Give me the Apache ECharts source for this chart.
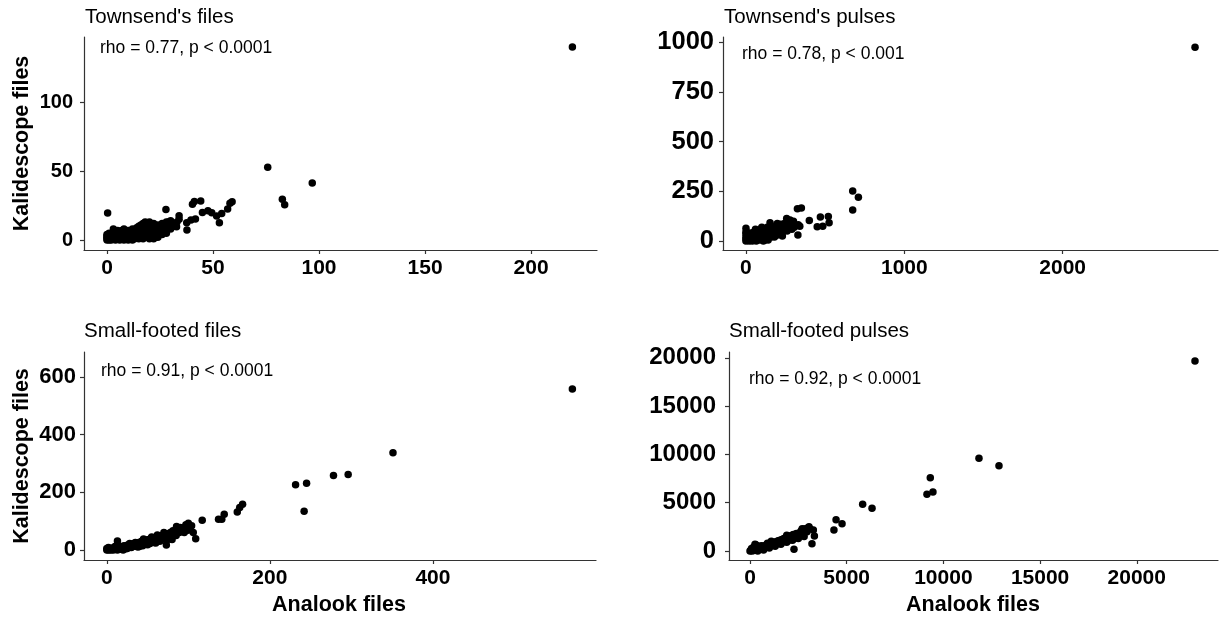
<!DOCTYPE html>
<html>
<head>
<meta charset="utf-8">
<script src="https://cdn.jsdelivr.net/npm/echarts@6/dist/echarts.min.js"></script>
<style>
html,body{margin:0;padding:0;background:#fff;}
#chart{width:1228px;height:619px;}
</style>
</head>
<body>
<div id="chart"></div>
<script>
// ---- Data ----
const panelTitles = ["Townsend's files", "Townsend's pulses", "Small-footed files", "Small-footed pulses"];
const corrLabels = ["rho = 0.77, p < 0.0001", "rho = 0.78, p < 0.001", "rho = 0.91, p < 0.0001", "rho = 0.92, p < 0.0001"];
const xAxisTitle = "Analook files";
const yAxisTitle = "Kalidescope files";

const townsendFiles = [
  [219.5,139.9],[75.8,52.7],[96.8,41.3],[82.7,29.5],[83.8,25.6],[0.3,19.6],[27.8,22.2],[34,17.6],
  [40.3,26],[41.2,28],[44.2,28.3],[37.7,7.2],[37.6,12.5],[39.6,14.5],[41.7,15.3],[45,20],[47.6,21.2],
  [49.4,19.8],[51.7,17.4],[53,12.5],[54.1,19.3],[56.9,22.5],[58,26.6],[59,27.8],[32.8,9.7],[31.5,11.6],
  [0,0],[0,1],[0,2],[1,0],[1,1],[1,3],[2,0],[2,2],[2,4],[3,1],[3,5],[3,8],[4,0],[4,2],[4,6],[5,1],[5,3],
  [5,7],[6,0],[6,2],[6,4],[7,1],[7,3],[7,7],[8,0],[8,2],[8,5],[8,8],[9,1],[9,3],[9,6],[10,0],[10,2],
  [10,4],[10,7],[11,1],[11,3],[11,5],[12,0],[12,2],[12,6],[12,8],[13,1],[13,4],[13,7],[14,2],[14,5],
  [14,9],[15,1],[15,3],[15,6],[15,10],[16,2],[16,4],[16,8],[16,11],[17,1],[17,5],[17,9],[17,12],[18,3],
  [18,6],[18,10],[19,2],[19,5],[19,8],[19,12],[20,1],[20,4],[20,7],[20,11],[21,3],[21,6],[21,9],[22,1],
  [22,5],[22,8],[22,12],[23,2],[23,6],[23,10],[24,4],[24,8],[24,11],[25,5],[25,9],[26,7],[26,12],[27,6],
  [27,10],[28,8],[28,13],[29,9],[30,11],[30,14],[31,12],[32,10],[33,13],[34,15],[0,4],[1,5],[2,1],[0,3],
  [18,13],[20,13],[22,3],[24,2],[26,4],[28,5],[29,13],[30,8]
];
const townsendPulses = [
  [2836,976],[674,252],[710,221],[674,156],[325,163],[350,166],[400,103],[470,121],[520,124],[450,72],
  [485,75],[525,92],[328,30],[257,114],[278,106],[330,82],[340,75],[152,92],[198,89],[0,65],
  [0,0],[0,10],[0,20],[0,35],[0,45],[10,5],[15,25],[20,0],[20,15],[25,40],[30,5],[35,20],[40,0],[40,30],
  [45,10],[50,25],[50,45],[55,5],[60,15],[60,35],[65,0],[70,20],[70,50],[75,10],[80,30],[80,55],[85,5],
  [90,20],[90,40],[95,60],[100,10],[100,30],[105,50],[110,0],[110,20],[115,40],[120,60],[125,15],[130,30],
  [130,50],[135,70],[140,5],[140,25],[145,45],[150,35],[150,60],[155,80],[160,20],[165,45],[170,30],
  [175,65],[180,40],[185,55],[190,75],[195,35],[200,50],[205,70],[210,40],[215,60],[220,85],[225,55],
  [230,45],[240,70],[245,90],[250,60],[255,80],[260,50],[270,95],[275,65],[280,75],[290,60],[295,85],
  [300,100],[305,70],[310,80],[120,5],[180,20],[200,30],[230,25],[60,60],[100,70]
];
const smallFiles = [
  [571,558],[351,337],[296,261],[278,258],[245,231],[231.5,226],[242,134],[166.5,158],[163,147],[160,131],
  [144,124],[141,106],[137,106],[117,103],[109,39],[106,60],[100,92.5],[97,87],[85.5,81],[73,17],[76,37],[13,31],
  [0,0],[1,2],[2,0],[3,4],[4,1],[5,3],[6,6],[7,2],[8,5],[9,8],[10,4],[11,7],[12,3],[13,10],[14,6],[15,9],
  [16,5],[17,12],[18,8],[19,11],[20,7],[21,14],[22,10],[23,13],[24,9],[25,16],[26,12],[27,18],[28,14],
  [29,11],[30,17],[31,20],[32,15],[33,22],[34,18],[35,13],[36,24],[37,20],[38,16],[39,26],[40,22],[41,18],
  [42,28],[43,24],[44,20],[45,30],[46,26],[47,22],[48,32],[49,28],[50,35],[51,24],[52,30],[53,38],[54,33],
  [55,28],[56,40],[57,35],[58,31],[59,42],[60,38],[61,33],[62,45],[63,40],[64,36],[65,48],[66,42],[67,38],
  [68,50],[70,45],[72,52],[74,48],[76,55],[78,60],[80,56],[82,62],[84,58],[86,66],[88,64],[90,70],[92,68],
  [94,72],[96,76],[98,74],[100,80],[102,78],[104,84],[0,5],[2,8],[5,0],[8,0],[10,12],[13,0],[15,2],
  [20,0],[25,5],[30,8],[35,26],[40,12],[45,38],[50,18],[55,45],[60,24],[65,30],[70,60],[75,42],[80,36],
  [85,50],[90,78],[95,60],[100,70],[62,52],[28,22],[18,2],
  [23,4],[27,8],[31,11],[35,20],[39,18],[43,30],[47,28],[51,34],[55,36],[59,34],[63,46],[67,46],[69,40],
  [71,50],[73,56],[75,50],[77,46],[79,52],[81,66],[83,54],[85,60],[87,70],[89,60],[91,66],[93,76],[95,70],
  [97,80],[99,68],[71,38],[66,34],[58,26],[53,22],[48,20],[44,14],[38,10]
];
const smallPulses = [
  [23010,19670],[11840,9590],[12875,8830],[9323,7590],[9150,5870],[9460,6110],[5825,4830],[6310,4420],
  [4450,3240],[4760,2830],[4340,2170],[3050,2520],[3275,2170],[3330,1550],[3205,760],[2275,180],[2880,2170],
  [1900,1620],[260,690],
  [0,0],[50,100],[100,0],[150,200],[200,50],[250,150],[300,300],[350,100],[400,250],[450,350],[500,200],
  [550,400],[600,300],[650,450],[700,350],[750,550],[800,450],[850,600],[900,500],[950,650],[1000,550],
  [1050,750],[1100,650],[1150,800],[1200,700],[1250,900],[1300,800],[1350,950],[1400,850],[1450,1050],
  [1500,900],[1550,1100],[1600,1000],[1650,1200],[1700,1100],[1750,1300],[1800,1150],[1850,1400],
  [1900,1250],[1950,1500],[2000,1350],[2050,1550],[2100,1400],[2200,1650],[2300,1500],[2400,1800],
  [2500,1700],[2600,1950],[2700,1850],[2800,2050],[2900,2200],[3000,2400],[3100,2300],[200,450],[300,650],[80,250],
  [400,0],[700,100],[1000,300],[1300,500],[1600,700],[1900,900],[2200,1100],[2500,1300],[2800,1500],
  [500,500],[1100,1000],[2700,2300],
  [125,100],[225,250],[325,150],[425,300],[525,350],[625,400],[725,450],[825,500],[925,600],[1025,650],
  [1125,700],[1225,800],[1325,850],[1425,950],[1525,1000],[1625,1100],[1725,1200],[1825,1300],[1925,1400],
  [2025,1450],[2150,1550],[2250,1700],[2350,1650],[2450,1750],[2550,1850],[2650,2100],[2750,1950],
  [2850,2300],[2950,2000],[1450,750],[1750,950],[2050,1150],[2350,1350],[2650,1600],[600,550],[900,800]
];

const xTicks = [[0,50,100,150,200],[0,1000,2000],[0,200,400],[0,5000,10000,15000,20000]];
const yTicks = [[0,50,100],[0,250,500,750,1000],[0,200,400,600],[0,5000,10000,15000,20000]];

// ---- Layout ----
const grids = [
  {left:84, top:37, width:513, height:213},
  {left:723, top:37, width:495, height:213},
  {left:84, top:352, width:512, height:208},
  {left:729, top:352, width:489, height:208}
];
const xRanges = [[-10.85,231.1],[-145,2981],[-28,600],[-1086,24200]];
const yRanges = [[-7.2,147.1],[-45,1027],[-35,686],[-932,20600]];
const yLabelSize = [20,25.5,22,24];
const yLabelMargin = [11,9,8,13];
const FONT = "'Liberation Sans', Arial, sans-serif";
const allData = [townsendFiles, townsendPulses, smallFiles, smallPulses];

const axisLineStyle = {color:'#333', width:1.2};
const plain = v => String(v);

const option = {
  animation:false,
  backgroundColor:'#fff',
  grid: grids.map(g => Object.assign({containLabel:false}, g)),
  xAxis: grids.map((g,i) => ({
    type:'value', gridIndex:i, min:xRanges[i][0], max:xRanges[i][1],
    axisLine:{show:true, onZero:false, lineStyle:axisLineStyle},
    axisTick:{show:true, length:4, lineStyle:axisLineStyle, customValues:xTicks[i]},
    axisLabel:{customValues:xTicks[i], formatter:plain, fontSize:21, fontWeight:'bold', color:'#000', fontFamily:FONT, margin:8},
    splitLine:{show:false}
  })),
  yAxis: grids.map((g,i) => ({
    type:'value', gridIndex:i, min:yRanges[i][0], max:yRanges[i][1],
    axisLine:{show:true, onZero:false, lineStyle:axisLineStyle},
    axisTick:{show:true, length:4, lineStyle:axisLineStyle, customValues:yTicks[i]},
    axisLabel:{customValues:yTicks[i], formatter:plain, fontSize:yLabelSize[i], fontWeight:'bold', color:'#000', fontFamily:FONT, margin:yLabelMargin[i]},
    splitLine:{show:false}
  })),
  series: allData.map((d,i) => ({
    type:'scatter', xAxisIndex:i, yAxisIndex:i, data:d,
    symbol:'circle', symbolSize:7.5, itemStyle:{color:'#000', opacity:1}, silent:true
  })),
  graphic: [
    // panel titles
    {type:'text', left:85, top:7, style:{text:panelTitles[0], font:"20.5px "+FONT, fill:'#000'}},
    {type:'text', left:724, top:7, style:{text:panelTitles[1], font:"20.5px "+FONT, fill:'#000'}},
    {type:'text', left:84, top:321, style:{text:panelTitles[2], font:"20.5px "+FONT, fill:'#000'}},
    {type:'text', left:729, top:321, style:{text:panelTitles[3], font:"20.5px "+FONT, fill:'#000'}},
    // correlation annotations
    {type:'text', left:100, top:39, style:{text:corrLabels[0], font:"17.5px "+FONT, fill:'#000'}},
    {type:'text', left:742, top:45, style:{text:corrLabels[1], font:"17.5px "+FONT, fill:'#000'}},
    {type:'text', left:101, top:362, style:{text:corrLabels[2], font:"17.5px "+FONT, fill:'#000'}},
    {type:'text', left:749, top:370, style:{text:corrLabels[3], font:"17.5px "+FONT, fill:'#000'}},
    // axis titles
    {type:'text', x:22, y:143.5, rotation:Math.PI/2, style:{text:yAxisTitle, font:"bold 21.5px "+FONT, fill:'#000', align:'center', verticalAlign:'middle'}},
    {type:'text', x:22, y:456, rotation:Math.PI/2, style:{text:yAxisTitle, font:"bold 21.5px "+FONT, fill:'#000', align:'center', verticalAlign:'middle'}},
    {type:'text', x:339, y:605, style:{text:xAxisTitle, font:"bold 21.5px "+FONT, fill:'#000', align:'center', verticalAlign:'middle'}},
    {type:'text', x:973, y:605, style:{text:xAxisTitle, font:"bold 21.5px "+FONT, fill:'#000', align:'center', verticalAlign:'middle'}}
  ]
};

const chart = echarts.init(document.getElementById('chart'), null, {renderer:'canvas'});
chart.setOption(option);
</script>
</body>
</html>
